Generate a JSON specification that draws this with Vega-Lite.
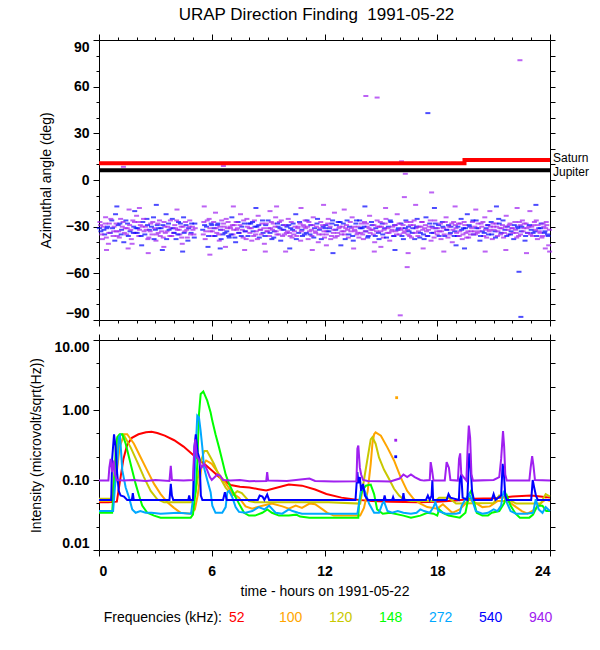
{
  "$schema": "https://vega.github.io/schema/vega-lite/v6.json",
  "padding": {"left": 29, "top": 5, "right": 0, "bottom": 0},
  "background": "white",
  "title": {"text": "URAP Direction Finding\u00a0 1991-05-22", "font": "Liberation Sans", "fontSize": 17, "fontWeight": "normal", "color": "black", "anchor": "middle", "offset": 10, "dx": 7},
  "config": {
    "view": {"stroke": null},
    "font": "Liberation Sans",
    "axis": {"grid": false, "domainColor": "black", "tickColor": "black", "labelColor": "black", "titleColor": "black", "labelFont": "Liberation Sans", "labelFontSize": 14, "labelFontWeight": "bold", "titleFont": "Liberation Sans", "titleFontSize": 14, "titleFontWeight": "normal"}
  },
  "resolve": {"scale": {"color": "independent"}},
  "spacing": 6,
  "datasets": {
    "az": [
      {"t":0.05,"a":-27,"f":"940"},{"t":0.1,"a":-33,"f":"540"},{"t":0.18,"a":-38,"f":"940"},{"t":0.22,"a":-30,"f":"940"},{"t":0.3,"a":-35,"f":"540"},{"t":0.35,"a":-24,"f":"940"},{"t":0.42,"a":-31,"f":"540"},{"t":0.5,"a":-41,"f":"940"},{"t":0.55,"a":-28,"f":"940"},{"t":0.6,"a":-34,"f":"540"},{"t":0.68,"a":-26,"f":"540"},{"t":0.75,"a":-36,"f":"940"},{"t":0.8,"a":-30,"f":"940"},{"t":0.88,"a":-22,"f":"540"},{"t":0.93,"a":-33,"f":"940"},
      {"t":0.7,"a":11,"f":"940"},{"t":1.25,"a":10.5,"f":"540"},{"t":1.3,"a":8.5,"f":"940"},
      {"t":1.02,"a":-29,"f":"540"},{"t":1.08,"a":-37,"f":"940"},{"t":1.15,"a":-25,"f":"940"},{"t":1.2,"a":-32,"f":"540"},{"t":1.28,"a":-27,"f":"940"},{"t":1.32,"a":-40,"f":"540"},{"t":1.4,"a":-31,"f":"940"},{"t":1.47,"a":-35,"f":"940"},{"t":1.52,"a":-28,"f":"540"},{"t":1.6,"a":-19,"f":"940"},{"t":1.65,"a":-33,"f":"540"},{"t":1.72,"a":-38,"f":"940"},{"t":1.8,"a":-26,"f":"940"},{"t":1.85,"a":-30,"f":"540"},{"t":1.93,"a":-34,"f":"940"},
      {"t":2.0,"a":-23,"f":"940"},{"t":2.06,"a":-31,"f":"540"},{"t":2.12,"a":-36,"f":"940"},{"t":2.2,"a":-29,"f":"940"},{"t":2.27,"a":-42,"f":"540"},{"t":2.33,"a":-27,"f":"540"},{"t":2.4,"a":-33,"f":"940"},{"t":2.47,"a":-30,"f":"940"},{"t":2.55,"a":-25,"f":"540"},{"t":2.6,"a":-38,"f":"940"},{"t":2.68,"a":-32,"f":"540"},{"t":2.75,"a":-28,"f":"940"},{"t":2.82,"a":-35,"f":"940"},{"t":2.9,"a":-24,"f":"540"},{"t":2.95,"a":-31,"f":"940"},
      {"t":3.03,"a":-39,"f":"940"},{"t":3.1,"a":-29,"f":"540"},{"t":3.15,"a":-34,"f":"940"},{"t":3.22,"a":-26,"f":"940"},{"t":3.3,"a":-31,"f":"540"},{"t":3.37,"a":-45,"f":"540"},{"t":3.42,"a":-37,"f":"940"},{"t":3.5,"a":-30,"f":"940"},{"t":3.57,"a":-22,"f":"540"},{"t":3.62,"a":-33,"f":"940"},{"t":3.7,"a":-28,"f":"540"},{"t":3.77,"a":-36,"f":"940"},{"t":3.83,"a":-31,"f":"940"},{"t":3.9,"a":-25,"f":"540"},{"t":3.97,"a":-34,"f":"940"},
      {"t":4.03,"a":-29,"f":"940"},{"t":4.1,"a":-38,"f":"540"},{"t":4.17,"a":-32,"f":"940"},{"t":4.23,"a":-27,"f":"540"},{"t":4.3,"a":-35,"f":"940"},{"t":4.37,"a":-30,"f":"940"},{"t":4.43,"a":-41,"f":"940"},{"t":4.5,"a":-24,"f":"540"},{"t":4.57,"a":-33,"f":"940"},{"t":4.63,"a":-29,"f":"540"},{"t":4.7,"a":-37,"f":"940"},{"t":4.77,"a":-31,"f":"540"},{"t":4.83,"a":-26,"f":"940"},{"t":4.9,"a":-34,"f":"540"},{"t":4.97,"a":-30,"f":"940"},{"t":5.05,"a":-35,"f":"940"},{"t":5.1,"a":-28,"f":"540"},
      {"t":5.52,"a":-32,"f":"540"},{"t":5.58,"a":-27,"f":"940"},{"t":5.65,"a":-38,"f":"940"},{"t":5.72,"a":-30,"f":"540"},{"t":5.8,"a":-43,"f":"540"},{"t":5.86,"a":-25,"f":"940"},{"t":5.93,"a":-33,"f":"940"},
      {"t":6.0,"a":-29,"f":"540"},{"t":6.07,"a":-36,"f":"940"},{"t":6.13,"a":-31,"f":"540"},{"t":6.2,"a":-21,"f":"940"},{"t":6.27,"a":-34,"f":"940"},{"t":6.33,"a":-28,"f":"540"},{"t":6.4,"a":-39,"f":"940"},{"t":6.47,"a":-32,"f":"540"},{"t":6.53,"a":-26,"f":"940"},{"t":6.6,"a":-35,"f":"540"},{"t":6.62,"a":9,"f":"940"},{"t":6.67,"a":-30,"f":"940"},{"t":6.73,"a":-43,"f":"940"},{"t":6.8,"a":-33,"f":"540"},{"t":6.87,"a":-27,"f":"940"},{"t":6.93,"a":-37,"f":"540"},
      {"t":7.0,"a":-31,"f":"940"},{"t":7.07,"a":-24,"f":"540"},{"t":7.13,"a":-35,"f":"940"},{"t":7.2,"a":-29,"f":"940"},{"t":7.27,"a":-40,"f":"540"},{"t":7.33,"a":-32,"f":"940"},{"t":7.4,"a":-27,"f":"540"},{"t":7.47,"a":-34,"f":"940"},{"t":7.53,"a":-22,"f":"940"},{"t":7.6,"a":-30,"f":"540"},{"t":7.67,"a":-37,"f":"940"},{"t":7.73,"a":-28,"f":"540"},{"t":7.8,"a":-33,"f":"940"},{"t":7.87,"a":-25,"f":"940"},{"t":7.93,"a":-36,"f":"540"},
      {"t":8.0,"a":-31,"f":"940"},{"t":8.07,"a":-28,"f":"540"},{"t":8.13,"a":-39,"f":"940"},{"t":8.2,"a":-33,"f":"540"},{"t":8.27,"a":-26,"f":"940"},{"t":8.33,"a":-35,"f":"940"},{"t":8.4,"a":-30,"f":"540"},{"t":8.47,"a":-23,"f":"940"},{"t":8.53,"a":-37,"f":"540"},{"t":8.6,"a":-32,"f":"940"},{"t":8.67,"a":-28,"f":"940"},{"t":8.73,"a":-34,"f":"540"},{"t":8.8,"a":-41,"f":"940"},{"t":8.87,"a":-29,"f":"540"},{"t":8.93,"a":-33,"f":"940"},
      {"t":9.0,"a":-26,"f":"540"},{"t":9.07,"a":-36,"f":"940"},{"t":9.13,"a":-31,"f":"940"},{"t":9.2,"a":-38,"f":"540"},{"t":9.27,"a":-28,"f":"940"},{"t":9.33,"a":-33,"f":"540"},{"t":9.4,"a":-24,"f":"940"},{"t":9.47,"a":-35,"f":"940"},{"t":9.53,"a":-30,"f":"540"},{"t":9.6,"a":-27,"f":"940"},{"t":9.67,"a":-39,"f":"540"},{"t":9.73,"a":-32,"f":"940"},{"t":9.8,"a":-29,"f":"540"},{"t":9.87,"a":-35,"f":"940"},{"t":9.93,"a":-46,"f":"940"},
      {"t":10.0,"a":-30,"f":"540"},{"t":10.07,"a":-25,"f":"940"},{"t":10.13,"a":-34,"f":"940"},{"t":10.2,"a":-31,"f":"540"},{"t":10.27,"a":-37,"f":"940"},{"t":10.33,"a":-28,"f":"540"},{"t":10.4,"a":-33,"f":"940"},{"t":10.47,"a":-22,"f":"540"},{"t":10.53,"a":-36,"f":"940"},{"t":10.6,"a":-30,"f":"940"},{"t":10.67,"a":-27,"f":"540"},{"t":10.73,"a":-39,"f":"940"},{"t":10.8,"a":-32,"f":"540"},{"t":10.87,"a":-29,"f":"940"},{"t":10.93,"a":-35,"f":"540"},
      {"t":11.0,"a":-31,"f":"940"},{"t":11.07,"a":-26,"f":"540"},{"t":11.13,"a":-38,"f":"940"},{"t":11.2,"a":-33,"f":"940"},{"t":11.27,"a":-29,"f":"540"},{"t":11.33,"a":-36,"f":"940"},{"t":11.4,"a":-24,"f":"940"},{"t":11.47,"a":-31,"f":"540"},{"t":11.53,"a":-34,"f":"940"},{"t":11.6,"a":-28,"f":"540"},{"t":11.67,"a":-40,"f":"940"},{"t":11.73,"a":-32,"f":"540"},{"t":11.8,"a":-27,"f":"940"},{"t":11.87,"a":-35,"f":"940"},{"t":11.93,"a":-30,"f":"540"},
      {"t":12.0,"a":-37,"f":"940"},{"t":12.07,"a":-29,"f":"540"},{"t":12.13,"a":-33,"f":"940"},{"t":12.2,"a":-25,"f":"940"},{"t":12.27,"a":-31,"f":"540"},{"t":12.33,"a":-38,"f":"940"},{"t":12.4,"a":-28,"f":"540"},{"t":12.47,"a":-34,"f":"940"},{"t":12.53,"a":-21,"f":"940"},{"t":12.6,"a":-32,"f":"540"},{"t":12.67,"a":-36,"f":"940"},{"t":12.73,"a":-27,"f":"540"},{"t":12.8,"a":-30,"f":"940"},{"t":12.87,"a":-42,"f":"540"},{"t":12.93,"a":-33,"f":"940"},
      {"t":13.0,"a":-28,"f":"540"},{"t":13.07,"a":-35,"f":"940"},{"t":13.13,"a":-31,"f":"940"},{"t":13.2,"a":-26,"f":"540"},{"t":13.27,"a":-37,"f":"940"},{"t":13.33,"a":-30,"f":"540"},{"t":13.4,"a":-33,"f":"940"},{"t":13.47,"a":-24,"f":"940"},{"t":13.53,"a":-39,"f":"540"},{"t":13.6,"a":-32,"f":"940"},{"t":13.67,"a":-28,"f":"540"},{"t":13.73,"a":-35,"f":"940"},{"t":13.8,"a":-30,"f":"940"},{"t":13.87,"a":-26,"f":"540"},{"t":13.93,"a":-34,"f":"940"},
      {"t":14.0,"a":-31,"f":"540"},{"t":14.07,"a":-38,"f":"940"},{"t":14.13,"a":-27,"f":"940"},{"t":14.2,"a":-33,"f":"540"},{"t":14.27,"a":-30,"f":"940"},{"t":14.33,"a":-36,"f":"540"},{"t":14.4,"a":-23,"f":"940"},{"t":14.47,"a":-32,"f":"940"},{"t":14.53,"a":-29,"f":"540"},{"t":14.6,"a":-35,"f":"940"},{"t":14.67,"a":-40,"f":"940"},{"t":14.73,"a":-31,"f":"540"},{"t":14.8,"a":-26,"f":"940"},{"t":14.87,"a":-34,"f":"540"},{"t":14.93,"a":-30,"f":"940"},{"t":14.2,"a":54,"f":"940"},{"t":14.8,"a":53,"f":"940"},
      {"t":15.0,"a":-33,"f":"940"},{"t":15.07,"a":-28,"f":"540"},{"t":15.13,"a":-37,"f":"940"},{"t":15.2,"a":-31,"f":"540"},{"t":15.27,"a":-25,"f":"940"},{"t":15.33,"a":-34,"f":"940"},{"t":15.4,"a":-30,"f":"540"},{"t":15.47,"a":-39,"f":"940"},{"t":15.53,"a":-27,"f":"540"},{"t":15.6,"a":-32,"f":"940"},{"t":15.67,"a":-36,"f":"940"},{"t":15.73,"a":-29,"f":"540"},{"t":15.8,"a":-33,"f":"940"},{"t":15.87,"a":-22,"f":"940"},{"t":15.93,"a":-31,"f":"540"},
      {"t":16.0,"a":-35,"f":"940"},{"t":16.03,"a":-87,"f":"940"},{"t":16.07,"a":-28,"f":"540"},{"t":16.1,"a":12,"f":"940"},{"t":16.13,"a":-31,"f":"940"},{"t":16.2,"a":-38,"f":"540"},{"t":16.25,"a":-11,"f":"940"},{"t":16.27,"a":-33,"f":"940"},{"t":16.3,"a":4,"f":"940"},{"t":16.33,"a":-26,"f":"540"},{"t":16.4,"a":-56,"f":"940"},{"t":16.42,"a":-32,"f":"940"},{"t":16.47,"a":-30,"f":"540"},{"t":16.53,"a":-36,"f":"940"},{"t":16.6,"a":-27,"f":"940"},{"t":16.67,"a":-34,"f":"540"},{"t":16.73,"a":-29,"f":"940"},{"t":16.8,"a":-38,"f":"540"},{"t":16.87,"a":-31,"f":"940"},{"t":16.93,"a":-25,"f":"540"},
      {"t":17.0,"a":-33,"f":"940"},{"t":17.07,"a":-37,"f":"540"},{"t":17.13,"a":-30,"f":"940"},{"t":17.2,"a":-27,"f":"940"},{"t":17.27,"a":-35,"f":"540"},{"t":17.33,"a":-31,"f":"940"},{"t":17.4,"a":-24,"f":"540"},{"t":17.47,"a":-36,"f":"940"},{"t":17.5,"a":43,"f":"540"},{"t":17.53,"a":-32,"f":"940"},{"t":17.6,"a":-28,"f":"540"},{"t":17.67,"a":-39,"f":"940"},{"t":17.7,"a":-8,"f":"940"},{"t":17.73,"a":-30,"f":"540"},{"t":17.8,"a":-34,"f":"940"},{"t":17.87,"a":-26,"f":"940"},{"t":17.93,"a":-31,"f":"540"},
      {"t":18.0,"a":-35,"f":"940"},{"t":18.07,"a":-29,"f":"540"},{"t":18.13,"a":-33,"f":"940"},{"t":18.2,"a":-38,"f":"940"},{"t":18.27,"a":-27,"f":"540"},{"t":18.33,"a":-31,"f":"940"},{"t":18.4,"a":-36,"f":"540"},{"t":18.47,"a":-24,"f":"940"},{"t":18.53,"a":-32,"f":"940"},{"t":18.6,"a":-29,"f":"540"},{"t":18.67,"a":-35,"f":"940"},{"t":18.73,"a":-30,"f":"540"},{"t":18.8,"a":-40,"f":"940"},{"t":18.87,"a":-27,"f":"940"},{"t":18.93,"a":-33,"f":"540"},
      {"t":19.0,"a":-31,"f":"940"},{"t":19.07,"a":-36,"f":"540"},{"t":19.13,"a":-28,"f":"940"},{"t":19.2,"a":-33,"f":"940"},{"t":19.27,"a":-25,"f":"540"},{"t":19.33,"a":-38,"f":"940"},{"t":19.4,"a":-31,"f":"540"},{"t":19.47,"a":-29,"f":"940"},{"t":19.53,"a":-34,"f":"940"},{"t":19.6,"a":-22,"f":"540"},{"t":19.67,"a":-37,"f":"940"},{"t":19.73,"a":-30,"f":"540"},{"t":19.8,"a":-33,"f":"940"},{"t":19.87,"a":-27,"f":"940"},{"t":19.93,"a":-35,"f":"540"},
      {"t":20.0,"a":-30,"f":"940"},{"t":20.07,"a":-26,"f":"540"},{"t":20.13,"a":-34,"f":"940"},{"t":20.2,"a":-31,"f":"940"},{"t":20.27,"a":-39,"f":"540"},{"t":20.33,"a":-28,"f":"940"},{"t":20.4,"a":-33,"f":"540"},{"t":20.47,"a":-36,"f":"940"},{"t":20.53,"a":-24,"f":"940"},{"t":20.6,"a":-31,"f":"540"},{"t":20.67,"a":-29,"f":"940"},{"t":20.73,"a":-35,"f":"540"},{"t":20.8,"a":-32,"f":"940"},{"t":20.87,"a":-27,"f":"540"},{"t":20.93,"a":-38,"f":"940"},
      {"t":21.0,"a":-30,"f":"940"},{"t":21.07,"a":-33,"f":"540"},{"t":21.13,"a":-28,"f":"940"},{"t":21.2,"a":-36,"f":"940"},{"t":21.27,"a":-25,"f":"540"},{"t":21.33,"a":-31,"f":"940"},{"t":21.4,"a":-34,"f":"540"},{"t":21.47,"a":-29,"f":"940"},{"t":21.53,"a":-37,"f":"940"},{"t":21.6,"a":-32,"f":"540"},{"t":21.67,"a":-23,"f":"940"},{"t":21.73,"a":-30,"f":"540"},{"t":21.8,"a":-35,"f":"940"},{"t":21.87,"a":-28,"f":"940"},{"t":21.93,"a":-33,"f":"540"},
      {"t":22.0,"a":-31,"f":"940"},{"t":22.07,"a":-38,"f":"540"},{"t":22.13,"a":-27,"f":"940"},{"t":22.2,"a":-34,"f":"940"},{"t":22.27,"a":-30,"f":"540"},{"t":22.33,"a":-36,"f":"940"},{"t":22.35,"a":-59,"f":"540"},{"t":22.4,"a":77,"f":"940"},{"t":22.42,"a":-29,"f":"940"},{"t":22.45,"a":-88,"f":"540"},{"t":22.47,"a":-33,"f":"540"},{"t":22.53,"a":-26,"f":"940"},{"t":22.6,"a":-31,"f":"940"},{"t":22.67,"a":-39,"f":"540"},{"t":22.73,"a":-28,"f":"940"},{"t":22.8,"a":-34,"f":"540"},{"t":22.87,"a":-30,"f":"940"},{"t":22.93,"a":-20,"f":"940"},
      {"t":23.0,"a":-32,"f":"540"},{"t":23.07,"a":-36,"f":"940"},{"t":23.13,"a":-29,"f":"940"},{"t":23.2,"a":-33,"f":"540"},{"t":23.27,"a":-26,"f":"940"},{"t":23.33,"a":-38,"f":"940"},{"t":23.4,"a":-31,"f":"540"},{"t":23.47,"a":-34,"f":"940"},{"t":23.53,"a":-28,"f":"540"},{"t":23.6,"a":-36,"f":"940"},{"t":23.67,"a":-30,"f":"940"},{"t":23.73,"a":-33,"f":"540"},{"t":23.8,"a":-27,"f":"940"},{"t":23.87,"a":-35,"f":"540"},{"t":23.93,"a":-42,"f":"940"},
      {"t":0.02,"a":-31,"f":"540"},{"t":0.08,"a":-29,"f":"940"},{"t":0.14,"a":-35,"f":"940"},{"t":0.26,"a":-32,"f":"540"},{"t":0.33,"a":-28,"f":"940"},{"t":0.39,"a":-37,"f":"940"},{"t":0.46,"a":-30,"f":"540"},{"t":0.52,"a":-34,"f":"940"},{"t":0.63,"a":-25,"f":"940"},{"t":0.72,"a":-31,"f":"540"},{"t":0.78,"a":-33,"f":"940"},{"t":0.84,"a":-39,"f":"540"},{"t":0.91,"a":-28,"f":"940"},{"t":0.97,"a":-36,"f":"940"},
      {"t":1.05,"a":-33,"f":"940"},{"t":1.11,"a":-28,"f":"540"},{"t":1.18,"a":-35,"f":"540"},{"t":1.24,"a":-30,"f":"940"},{"t":1.35,"a":-34,"f":"940"},{"t":1.43,"a":-26,"f":"540"},{"t":1.5,"a":-31,"f":"940"},{"t":1.56,"a":-36,"f":"540"},{"t":1.63,"a":-29,"f":"940"},{"t":1.69,"a":-32,"f":"940"},{"t":1.76,"a":-41,"f":"940"},{"t":1.83,"a":-34,"f":"540"},{"t":1.89,"a":-27,"f":"940"},{"t":1.97,"a":-31,"f":"540"},
      {"t":2.03,"a":-34,"f":"540"},{"t":2.09,"a":-27,"f":"940"},{"t":2.16,"a":-32,"f":"940"},{"t":2.24,"a":-36,"f":"540"},{"t":2.3,"a":-30,"f":"940"},{"t":2.37,"a":-25,"f":"940"},{"t":2.44,"a":-35,"f":"540"},{"t":2.51,"a":-32,"f":"940"},{"t":2.58,"a":-29,"f":"540"},{"t":2.65,"a":-37,"f":"940"},{"t":2.72,"a":-33,"f":"940"},{"t":2.79,"a":-30,"f":"540"},{"t":2.86,"a":-27,"f":"940"},{"t":2.93,"a":-38,"f":"540"},
      {"t":3.0,"a":-32,"f":"540"},{"t":3.07,"a":-35,"f":"940"},{"t":3.13,"a":-28,"f":"940"},{"t":3.19,"a":-31,"f":"540"},{"t":3.26,"a":-36,"f":"940"},{"t":3.33,"a":-33,"f":"940"},{"t":3.4,"a":-29,"f":"540"},{"t":3.46,"a":-27,"f":"940"},{"t":3.53,"a":-34,"f":"940"},{"t":3.6,"a":-38,"f":"540"},{"t":3.66,"a":-30,"f":"940"},{"t":3.73,"a":-32,"f":"540"},{"t":3.8,"a":-26,"f":"940"},{"t":3.87,"a":-36,"f":"940"},{"t":3.94,"a":-31,"f":"540"},
      {"t":4.0,"a":-34,"f":"540"},{"t":4.07,"a":-31,"f":"940"},{"t":4.13,"a":-26,"f":"940"},{"t":4.2,"a":-35,"f":"540"},{"t":4.27,"a":-32,"f":"940"},{"t":4.33,"a":-28,"f":"540"},{"t":4.4,"a":-37,"f":"940"},{"t":4.47,"a":-30,"f":"940"},{"t":4.53,"a":-34,"f":"540"},{"t":4.6,"a":-27,"f":"940"},{"t":4.67,"a":-32,"f":"940"},{"t":4.73,"a":-39,"f":"540"},{"t":4.8,"a":-30,"f":"940"},{"t":4.87,"a":-35,"f":"940"},{"t":4.93,"a":-28,"f":"540"},{"t":5.0,"a":-32,"f":"940"},{"t":5.07,"a":-37,"f":"540"},{"t":5.12,"a":-31,"f":"940"},
      {"t":5.55,"a":-35,"f":"940"},{"t":5.62,"a":-29,"f":"540"},{"t":5.68,"a":-33,"f":"940"},{"t":5.76,"a":-26,"f":"940"},{"t":5.83,"a":-36,"f":"540"},{"t":5.9,"a":-31,"f":"940"},{"t":5.97,"a":-28,"f":"540"},
      {"t":6.03,"a":-33,"f":"940"},{"t":6.1,"a":-27,"f":"940"},{"t":6.17,"a":-36,"f":"540"},{"t":6.23,"a":-31,"f":"940"},{"t":6.3,"a":-29,"f":"540"},{"t":6.37,"a":-35,"f":"940"},{"t":6.43,"a":-30,"f":"940"},{"t":6.5,"a":-38,"f":"540"},{"t":6.57,"a":-32,"f":"940"},{"t":6.63,"a":-28,"f":"940"},{"t":6.7,"a":-34,"f":"540"},{"t":6.77,"a":-25,"f":"940"},{"t":6.83,"a":-31,"f":"940"},{"t":6.9,"a":-36,"f":"540"},{"t":6.97,"a":-30,"f":"940"},
      {"t":7.03,"a":-35,"f":"540"},{"t":7.1,"a":-29,"f":"940"},{"t":7.17,"a":-32,"f":"940"},{"t":7.23,"a":-37,"f":"540"},{"t":7.3,"a":-27,"f":"940"},{"t":7.37,"a":-31,"f":"940"},{"t":7.43,"a":-34,"f":"540"},{"t":7.5,"a":-29,"f":"940"},{"t":7.57,"a":-36,"f":"540"},{"t":7.63,"a":-32,"f":"940"},{"t":7.7,"a":-26,"f":"940"},{"t":7.77,"a":-33,"f":"540"},{"t":7.83,"a":-38,"f":"940"},{"t":7.9,"a":-30,"f":"940"},{"t":7.97,"a":-28,"f":"540"},
      {"t":8.03,"a":-34,"f":"940"},{"t":8.1,"a":-31,"f":"940"},{"t":8.17,"a":-27,"f":"540"},{"t":8.23,"a":-36,"f":"940"},{"t":8.3,"a":-30,"f":"540"},{"t":8.37,"a":-33,"f":"940"},{"t":8.43,"a":-38,"f":"940"},{"t":8.5,"a":-29,"f":"540"},{"t":8.57,"a":-32,"f":"940"},{"t":8.63,"a":-35,"f":"940"},{"t":8.7,"a":-26,"f":"540"},{"t":8.77,"a":-31,"f":"940"},{"t":8.83,"a":-36,"f":"540"},{"t":8.9,"a":-28,"f":"940"},{"t":8.97,"a":-33,"f":"940"},
      {"t":9.03,"a":-31,"f":"940"},{"t":9.1,"a":-34,"f":"540"},{"t":9.17,"a":-27,"f":"940"},{"t":9.23,"a":-32,"f":"940"},{"t":9.3,"a":-37,"f":"540"},{"t":9.37,"a":-30,"f":"940"},{"t":9.43,"a":-33,"f":"940"},{"t":9.5,"a":-28,"f":"540"},{"t":9.57,"a":-35,"f":"940"},{"t":9.63,"a":-31,"f":"540"},{"t":9.7,"a":-26,"f":"940"},{"t":9.77,"a":-36,"f":"940"},{"t":9.83,"a":-32,"f":"540"},{"t":9.9,"a":-29,"f":"940"},{"t":9.97,"a":-34,"f":"940"},
      {"t":10.03,"a":-33,"f":"940"},{"t":10.1,"a":-29,"f":"540"},{"t":10.17,"a":-36,"f":"940"},{"t":10.23,"a":-27,"f":"940"},{"t":10.3,"a":-32,"f":"540"},{"t":10.37,"a":-35,"f":"940"},{"t":10.43,"a":-30,"f":"940"},{"t":10.5,"a":-38,"f":"540"},{"t":10.57,"a":-31,"f":"940"},{"t":10.63,"a":-34,"f":"540"},{"t":10.7,"a":-28,"f":"940"},{"t":10.77,"a":-33,"f":"940"},{"t":10.83,"a":-36,"f":"540"},{"t":10.9,"a":-30,"f":"940"},{"t":10.97,"a":-26,"f":"940"},
      {"t":11.03,"a":-34,"f":"540"},{"t":11.1,"a":-30,"f":"940"},{"t":11.17,"a":-27,"f":"940"},{"t":11.23,"a":-35,"f":"540"},{"t":11.3,"a":-32,"f":"940"},{"t":11.37,"a":-29,"f":"940"},{"t":11.43,"a":-37,"f":"540"},{"t":11.5,"a":-33,"f":"940"},{"t":11.57,"a":-30,"f":"940"},{"t":11.63,"a":-25,"f":"540"},{"t":11.7,"a":-35,"f":"940"},{"t":11.77,"a":-31,"f":"940"},{"t":11.83,"a":-38,"f":"540"},{"t":11.9,"a":-29,"f":"940"},{"t":11.97,"a":-33,"f":"940"},
      {"t":12.03,"a":-31,"f":"540"},{"t":12.1,"a":-35,"f":"940"},{"t":12.17,"a":-28,"f":"940"},{"t":12.23,"a":-33,"f":"540"},{"t":12.3,"a":-30,"f":"940"},{"t":12.37,"a":-36,"f":"940"},{"t":12.43,"a":-26,"f":"540"},{"t":12.5,"a":-32,"f":"940"},{"t":12.57,"a":-37,"f":"940"},{"t":12.63,"a":-29,"f":"540"},{"t":12.7,"a":-34,"f":"940"},{"t":12.77,"a":-31,"f":"940"},{"t":12.83,"a":-27,"f":"540"},{"t":12.9,"a":-35,"f":"940"},{"t":12.97,"a":-30,"f":"940"},
      {"t":13.03,"a":-33,"f":"940"},{"t":13.1,"a":-38,"f":"540"},{"t":13.17,"a":-29,"f":"940"},{"t":13.23,"a":-32,"f":"940"},{"t":13.3,"a":-35,"f":"540"},{"t":13.37,"a":-27,"f":"940"},{"t":13.43,"a":-31,"f":"940"},{"t":13.5,"a":-36,"f":"540"},{"t":13.57,"a":-30,"f":"940"},{"t":13.63,"a":-33,"f":"940"},{"t":13.7,"a":-26,"f":"540"},{"t":13.77,"a":-34,"f":"940"},{"t":13.83,"a":-37,"f":"940"},{"t":13.9,"a":-31,"f":"540"},{"t":13.97,"a":-28,"f":"940"},
      {"t":14.03,"a":-35,"f":"940"},{"t":14.1,"a":-30,"f":"540"},{"t":14.17,"a":-33,"f":"940"},{"t":14.23,"a":-28,"f":"940"},{"t":14.3,"a":-37,"f":"540"},{"t":14.37,"a":-31,"f":"940"},{"t":14.43,"a":-34,"f":"940"},{"t":14.5,"a":-27,"f":"540"},{"t":14.57,"a":-32,"f":"940"},{"t":14.63,"a":-29,"f":"940"},{"t":14.7,"a":-36,"f":"540"},{"t":14.77,"a":-33,"f":"940"},{"t":14.83,"a":-30,"f":"940"},{"t":14.9,"a":-38,"f":"540"},{"t":14.97,"a":-27,"f":"940"},
      {"t":15.03,"a":-30,"f":"940"},{"t":15.1,"a":-35,"f":"540"},{"t":15.17,"a":-32,"f":"940"},{"t":15.23,"a":-28,"f":"940"},{"t":15.3,"a":-37,"f":"540"},{"t":15.37,"a":-31,"f":"940"},{"t":15.43,"a":-34,"f":"940"},{"t":15.5,"a":-26,"f":"540"},{"t":15.57,"a":-33,"f":"940"},{"t":15.63,"a":-30,"f":"940"},{"t":15.7,"a":-36,"f":"540"},{"t":15.77,"a":-29,"f":"940"},{"t":15.83,"a":-35,"f":"940"},{"t":15.9,"a":-32,"f":"540"},{"t":15.97,"a":-28,"f":"940"},
      {"t":16.05,"a":-32,"f":"940"},{"t":16.12,"a":-36,"f":"540"},{"t":16.18,"a":-29,"f":"940"},{"t":16.23,"a":-34,"f":"940"},{"t":16.3,"a":-31,"f":"540"},{"t":16.37,"a":-27,"f":"940"},{"t":16.45,"a":-35,"f":"940"},{"t":16.5,"a":-33,"f":"540"},{"t":16.57,"a":-29,"f":"940"},{"t":16.63,"a":-37,"f":"940"},{"t":16.7,"a":-31,"f":"540"},{"t":16.77,"a":-26,"f":"940"},{"t":16.83,"a":-34,"f":"940"},{"t":16.9,"a":-30,"f":"540"},{"t":16.97,"a":-36,"f":"940"},
      {"t":17.03,"a":-30,"f":"940"},{"t":17.1,"a":-34,"f":"540"},{"t":17.17,"a":-27,"f":"940"},{"t":17.23,"a":-32,"f":"940"},{"t":17.3,"a":-38,"f":"540"},{"t":17.37,"a":-29,"f":"940"},{"t":17.43,"a":-33,"f":"940"},{"t":17.5,"a":-36,"f":"540"},{"t":17.57,"a":-30,"f":"940"},{"t":17.63,"a":-26,"f":"940"},{"t":17.7,"a":-34,"f":"540"},{"t":17.77,"a":-31,"f":"940"},{"t":17.83,"a":-37,"f":"940"},{"t":17.9,"a":-28,"f":"540"},{"t":17.97,"a":-33,"f":"940"},
      {"t":18.03,"a":-31,"f":"940"},{"t":18.1,"a":-36,"f":"540"},{"t":18.17,"a":-28,"f":"940"},{"t":18.23,"a":-33,"f":"940"},{"t":18.3,"a":-30,"f":"540"},{"t":18.37,"a":-35,"f":"940"},{"t":18.43,"a":-27,"f":"940"},{"t":18.5,"a":-32,"f":"540"},{"t":18.57,"a":-37,"f":"940"},{"t":18.63,"a":-30,"f":"940"},{"t":18.7,"a":-34,"f":"540"},{"t":18.77,"a":-28,"f":"940"},{"t":18.83,"a":-32,"f":"940"},{"t":18.9,"a":-36,"f":"540"},{"t":18.97,"a":-29,"f":"940"},
      {"t":19.03,"a":-34,"f":"940"},{"t":19.1,"a":-30,"f":"540"},{"t":19.17,"a":-36,"f":"940"},{"t":19.23,"a":-28,"f":"940"},{"t":19.3,"a":-32,"f":"540"},{"t":19.37,"a":-35,"f":"940"},{"t":19.43,"a":-27,"f":"940"},{"t":19.5,"a":-31,"f":"540"},{"t":19.57,"a":-37,"f":"940"},{"t":19.63,"a":-33,"f":"940"},{"t":19.7,"a":-29,"f":"540"},{"t":19.77,"a":-35,"f":"940"},{"t":19.83,"a":-31,"f":"940"},{"t":19.9,"a":-26,"f":"540"},{"t":19.97,"a":-33,"f":"940"},
      {"t":20.03,"a":-35,"f":"940"},{"t":20.1,"a":-31,"f":"540"},{"t":20.17,"a":-28,"f":"940"},{"t":20.23,"a":-33,"f":"940"},{"t":20.3,"a":-36,"f":"540"},{"t":20.37,"a":-30,"f":"940"},{"t":20.43,"a":-27,"f":"940"},{"t":20.5,"a":-34,"f":"540"},{"t":20.57,"a":-32,"f":"940"},{"t":20.63,"a":-37,"f":"940"},{"t":20.7,"a":-29,"f":"540"},{"t":20.77,"a":-33,"f":"940"},{"t":20.83,"a":-30,"f":"940"},{"t":20.9,"a":-35,"f":"540"},{"t":20.97,"a":-28,"f":"940"},
      {"t":21.03,"a":-32,"f":"940"},{"t":21.1,"a":-37,"f":"540"},{"t":21.17,"a":-30,"f":"940"},{"t":21.23,"a":-33,"f":"940"},{"t":21.3,"a":-28,"f":"540"},{"t":21.37,"a":-35,"f":"940"},{"t":21.43,"a":-31,"f":"940"},{"t":21.5,"a":-26,"f":"540"},{"t":21.57,"a":-34,"f":"940"},{"t":21.63,"a":-30,"f":"940"},{"t":21.7,"a":-36,"f":"540"},{"t":21.77,"a":-32,"f":"940"},{"t":21.83,"a":-29,"f":"940"},{"t":21.9,"a":-35,"f":"540"},{"t":21.97,"a":-31,"f":"940"},
      {"t":22.03,"a":-34,"f":"940"},{"t":22.1,"a":-29,"f":"540"},{"t":22.17,"a":-32,"f":"940"},{"t":22.23,"a":-37,"f":"940"},{"t":22.3,"a":-31,"f":"540"},{"t":22.37,"a":-27,"f":"940"},{"t":22.43,"a":-35,"f":"940"},{"t":22.5,"a":-30,"f":"540"},{"t":22.57,"a":-33,"f":"940"},{"t":22.63,"a":-28,"f":"940"},{"t":22.7,"a":-36,"f":"540"},{"t":22.77,"a":-31,"f":"940"},{"t":22.83,"a":-34,"f":"940"},{"t":22.9,"a":-29,"f":"540"},{"t":22.97,"a":-35,"f":"940"},
      {"t":23.03,"a":-30,"f":"940"},{"t":23.1,"a":-34,"f":"540"},{"t":23.17,"a":-27,"f":"940"},{"t":23.23,"a":-32,"f":"940"},{"t":23.3,"a":-36,"f":"540"},{"t":23.37,"a":-29,"f":"940"},{"t":23.43,"a":-33,"f":"940"},{"t":23.5,"a":-31,"f":"540"},{"t":23.57,"a":-37,"f":"940"},{"t":23.63,"a":-28,"f":"940"},{"t":23.7,"a":-34,"f":"540"},{"t":23.77,"a":-31,"f":"940"},{"t":23.83,"a":-29,"f":"940"},{"t":23.9,"a":-36,"f":"540"},{"t":23.97,"a":-32,"f":"940"},
      {"t":0.4,"a":-45,"f":"940"},{"t":0.95,"a":-17,"f":"540"},{"t":1.55,"a":-44,"f":"940"},{"t":2.15,"a":-18,"f":"940"},{"t":2.62,"a":-47,"f":"940"},{"t":3.05,"a":-16,"f":"540"},{"t":3.45,"a":-43,"f":"940"},{"t":4.15,"a":-19,"f":"940"},{"t":4.45,"a":-46,"f":"540"},{"t":5.6,"a":-17,"f":"940"},{"t":5.9,"a":-48,"f":"940"},{"t":6.45,"a":-44,"f":"540"},{"t":7.15,"a":-17,"f":"940"},{"t":7.75,"a":-45,"f":"940"},{"t":8.35,"a":-18,"f":"540"},{"t":8.85,"a":-46,"f":"940"},{"t":9.45,"a":-17,"f":"940"},{"t":10.15,"a":-44,"f":"540"},{"t":10.75,"a":-18,"f":"940"},{"t":11.35,"a":-45,"f":"940"},{"t":11.95,"a":-16,"f":"940"},{"t":12.45,"a":-47,"f":"540"},{"t":13.05,"a":-19,"f":"940"},{"t":13.55,"a":-44,"f":"940"},{"t":14.15,"a":-17,"f":"540"},{"t":14.65,"a":-46,"f":"940"},{"t":15.25,"a":-18,"f":"940"},{"t":15.75,"a":-45,"f":"540"},{"t":16.45,"a":-47,"f":"940"},{"t":16.85,"a":-16,"f":"940"},{"t":17.25,"a":-44,"f":"940"},{"t":17.85,"a":-18,"f":"540"},{"t":18.35,"a":-46,"f":"940"},{"t":18.95,"a":-17,"f":"940"},{"t":19.45,"a":-44,"f":"540"},{"t":20.05,"a":-19,"f":"940"},{"t":20.55,"a":-46,"f":"940"},{"t":21.15,"a":-17,"f":"540"},{"t":21.65,"a":-45,"f":"940"},{"t":22.25,"a":-18,"f":"940"},{"t":22.75,"a":-47,"f":"940"},{"t":23.25,"a":-16,"f":"540"},{"t":23.75,"a":-44,"f":"940"},{"t":23.98,"a":-46,"f":"940"},{"t":1.9,"a":-20,"f":"540"},{"t":9.1,"a":-20,"f":"940"},{"t":12.1,"a":-42,"f":"940"},{"t":19.0,"a":-42,"f":"540"},{"t":20.8,"a":-20,"f":"940"},{"t":15.0,"a":-43,"f":"940"}
    ],
    "planets": [
      {"name":"Saturn","t":0,"a":10.7},{"name":"Saturn","t":19.45,"a":12.9},{"name":"Saturn","t":24,"a":12.9},
      {"name":"Jupiter","t":0,"a":6.2},{"name":"Jupiter","t":24,"a":6.2}
    ],
    "intensity": [
      {"f":"52","t":0,"v":0.048},{"f":"52","t":0.5,"v":0.048},{"f":"52","t":0.95,"v":0.049},{"f":"52","t":1.1,"v":0.09},{"f":"52","t":1.3,"v":0.2},{"f":"52","t":1.5,"v":0.32},{"f":"52","t":1.75,"v":0.4},{"f":"52","t":2.1,"v":0.45},{"f":"52","t":2.5,"v":0.48},{"f":"52","t":2.8,"v":0.49},{"f":"52","t":3.1,"v":0.47},{"f":"52","t":3.5,"v":0.43},{"f":"52","t":4.0,"v":0.37},{"f":"52","t":4.5,"v":0.3},{"f":"52","t":5.0,"v":0.23},{"f":"52","t":5.6,"v":0.17},{"f":"52","t":6.1,"v":0.13},{"f":"52","t":6.4,"v":0.11},{"f":"52","t":7.0,"v":0.085},{"f":"52","t":7.5,"v":0.08},{"f":"52","t":8.0,"v":0.078},{"f":"52","t":8.5,"v":0.074},{"f":"52","t":8.9,"v":0.071},{"f":"52","t":9.4,"v":0.077},{"f":"52","t":10.1,"v":0.086},{"f":"52","t":10.8,"v":0.083},{"f":"52","t":11.5,"v":0.073},{"f":"52","t":12.1,"v":0.063},{"f":"52","t":12.9,"v":0.056},{"f":"52","t":13.8,"v":0.052},{"f":"52","t":14.5,"v":0.05},{"f":"52","t":15.5,"v":0.049},{"f":"52","t":17,"v":0.048},{"f":"52","t":18,"v":0.049},{"f":"52","t":19,"v":0.051},{"f":"52","t":19.9,"v":0.054},{"f":"52","t":21,"v":0.055},{"f":"52","t":22,"v":0.058},{"f":"52","t":23,"v":0.06},{"f":"52","t":23.5,"v":0.058},{"f":"52","t":24,"v":0.056},
      {"f":"100","t":0,"v":0.05},{"f":"100","t":0.6,"v":0.05},{"f":"100","t":0.9,"v":0.1},{"f":"100","t":1.1,"v":0.3},{"f":"100","t":1.35,"v":0.45},{"f":"100","t":1.5,"v":0.45},{"f":"100","t":1.86,"v":0.33},{"f":"100","t":2.22,"v":0.21},{"f":"100","t":2.57,"v":0.136},{"f":"100","t":2.93,"v":0.088},{"f":"100","t":3.28,"v":0.063},{"f":"100","t":3.64,"v":0.048},{"f":"100","t":3.99,"v":0.04},{"f":"100","t":4.35,"v":0.034},{"f":"100","t":4.88,"v":0.033},{"f":"100","t":5.1,"v":0.038},{"f":"100","t":5.25,"v":0.06},{"f":"100","t":5.45,"v":0.15},{"f":"100","t":5.7,"v":0.19},{"f":"100","t":6.0,"v":0.17},{"f":"100","t":6.4,"v":0.12},{"f":"100","t":6.8,"v":0.085},{"f":"100","t":7.1,"v":0.065},{"f":"100","t":7.45,"v":0.056},{"f":"100","t":7.8,"v":0.042},{"f":"100","t":8.15,"v":0.039},{"f":"100","t":8.7,"v":0.043},{"f":"100","t":9.2,"v":0.046},{"f":"100","t":9.76,"v":0.042},{"f":"100","t":10.1,"v":0.039},{"f":"100","t":10.47,"v":0.043},{"f":"100","t":10.8,"v":0.04},{"f":"100","t":11.2,"v":0.046},{"f":"100","t":11.5,"v":0.045},{"f":"100","t":11.9,"v":0.038},{"f":"100","t":12.15,"v":0.034},{"f":"100","t":12.5,"v":0.031},{"f":"100","t":13.9,"v":0.031},{"f":"100","t":14.1,"v":0.04},{"f":"100","t":14.3,"v":0.07},{"f":"100","t":14.46,"v":0.17},{"f":"100","t":14.55,"v":0.33},{"f":"100","t":14.64,"v":0.45},{"f":"100","t":14.72,"v":0.48},{"f":"100","t":15.0,"v":0.43},{"f":"100","t":15.35,"v":0.29},{"f":"100","t":15.7,"v":0.19},{"f":"100","t":16.05,"v":0.11},{"f":"100","t":16.4,"v":0.07},{"f":"100","t":16.76,"v":0.053},{"f":"100","t":17.1,"v":0.046},{"f":"100","t":17.47,"v":0.041},{"f":"100","t":18.0,"v":0.039},{"f":"100","t":18.3,"v":0.045},{"f":"100","t":18.8,"v":0.034},{"f":"100","t":19.2,"v":0.038},{"f":"100","t":19.5,"v":0.046},{"f":"100","t":19.7,"v":0.053},{"f":"100","t":20.0,"v":0.048},{"f":"100","t":20.4,"v":0.041},{"f":"100","t":20.8,"v":0.042},{"f":"100","t":21.2,"v":0.05},{"f":"100","t":21.6,"v":0.05},{"f":"100","t":21.9,"v":0.047},{"f":"100","t":22.2,"v":0.041},{"f":"100","t":22.5,"v":0.036},{"f":"100","t":22.8,"v":0.033},{"f":"100","t":23.2,"v":0.038},{"f":"100","t":23.5,"v":0.046},{"f":"100","t":23.77,"v":0.053},{"f":"100","t":24,"v":0.05},
      {"f":"120","t":0,"v":0.054},{"f":"120","t":0.7,"v":0.054},{"f":"120","t":0.85,"v":0.15},{"f":"120","t":1.0,"v":0.38},{"f":"120","t":1.1,"v":0.44},{"f":"120","t":1.3,"v":0.45},{"f":"120","t":1.69,"v":0.29},{"f":"120","t":2.04,"v":0.18},{"f":"120","t":2.39,"v":0.11},{"f":"120","t":2.75,"v":0.07},{"f":"120","t":3.1,"v":0.053},{"f":"120","t":3.46,"v":0.048},{"f":"120","t":4.9,"v":0.048},{"f":"120","t":5.1,"v":0.06},{"f":"120","t":5.41,"v":0.18},{"f":"120","t":5.6,"v":0.26},{"f":"120","t":5.75,"v":0.26},{"f":"120","t":5.94,"v":0.21},{"f":"120","t":6.12,"v":0.17},{"f":"120","t":6.39,"v":0.115},{"f":"120","t":6.74,"v":0.078},{"f":"120","t":7.1,"v":0.06},{"f":"120","t":7.36,"v":0.069},{"f":"120","t":7.6,"v":0.065},{"f":"120","t":7.98,"v":0.05},{"f":"120","t":8.3,"v":0.048},{"f":"120","t":12.2,"v":0.048},{"f":"120","t":13.9,"v":0.046},{"f":"120","t":14.1,"v":0.1},{"f":"120","t":14.3,"v":0.21},{"f":"120","t":14.46,"v":0.38},{"f":"120","t":14.55,"v":0.41},{"f":"120","t":14.72,"v":0.33},{"f":"120","t":14.9,"v":0.21},{"f":"120","t":15.17,"v":0.14},{"f":"120","t":15.43,"v":0.104},{"f":"120","t":15.7,"v":0.075},{"f":"120","t":15.97,"v":0.06},{"f":"120","t":16.2,"v":0.053},{"f":"120","t":16.6,"v":0.05},{"f":"120","t":17.9,"v":0.05},{"f":"120","t":18.1,"v":0.056},{"f":"120","t":18.6,"v":0.056},{"f":"120","t":19.0,"v":0.046},{"f":"120","t":21.0,"v":0.047},{"f":"120","t":21.3,"v":0.06},{"f":"120","t":21.6,"v":0.056},{"f":"120","t":22.2,"v":0.046},{"f":"120","t":23.5,"v":0.046},{"f":"120","t":23.77,"v":0.063},{"f":"120","t":24,"v":0.058},
      {"f":"148","t":0,"v":0.034},{"f":"148","t":0.7,"v":0.034},{"f":"148","t":0.85,"v":0.15},{"f":"148","t":0.89,"v":0.29},{"f":"148","t":0.97,"v":0.41},{"f":"148","t":1.1,"v":0.45},{"f":"148","t":1.24,"v":0.45},{"f":"148","t":1.42,"v":0.33},{"f":"148","t":1.6,"v":0.21},{"f":"148","t":1.77,"v":0.137},{"f":"148","t":1.95,"v":0.088},{"f":"148","t":2.13,"v":0.06},{"f":"148","t":2.3,"v":0.043},{"f":"148","t":2.57,"v":0.034},{"f":"148","t":2.93,"v":0.031},{"f":"148","t":3.28,"v":0.029},{"f":"148","t":4.88,"v":0.029},{"f":"148","t":5.0,"v":0.032},{"f":"148","t":5.06,"v":0.046},{"f":"148","t":5.15,"v":0.07},{"f":"148","t":5.23,"v":0.17},{"f":"148","t":5.32,"v":0.87},{"f":"148","t":5.41,"v":1.69},{"f":"148","t":5.55,"v":1.84},{"f":"148","t":5.76,"v":1.36},{"f":"148","t":5.94,"v":0.92},{"f":"148","t":6.03,"v":0.7},{"f":"148","t":6.2,"v":0.45},{"f":"148","t":6.39,"v":0.29},{"f":"148","t":6.56,"v":0.19},{"f":"148","t":6.74,"v":0.12},{"f":"148","t":6.92,"v":0.088},{"f":"148","t":7.18,"v":0.063},{"f":"148","t":7.45,"v":0.046},{"f":"148","t":7.72,"v":0.034},{"f":"148","t":7.98,"v":0.031},{"f":"148","t":8.3,"v":0.031},{"f":"148","t":8.69,"v":0.034},{"f":"148","t":8.96,"v":0.038},{"f":"148","t":9.2,"v":0.034},{"f":"148","t":9.58,"v":0.031},{"f":"148","t":10.1,"v":0.031},{"f":"148","t":10.5,"v":0.032},{"f":"148","t":10.7,"v":0.03},{"f":"148","t":11.2,"v":0.029},{"f":"148","t":13.8,"v":0.029},{"f":"148","t":13.84,"v":0.05},{"f":"148","t":14.0,"v":0.07},{"f":"148","t":14.2,"v":0.083},{"f":"148","t":14.46,"v":0.086},{"f":"148","t":14.64,"v":0.063},{"f":"148","t":14.8,"v":0.038},{"f":"148","t":15.1,"v":0.033},{"f":"148","t":15.5,"v":0.034},{"f":"148","t":16.2,"v":0.031},{"f":"148","t":16.6,"v":0.029},{"f":"148","t":17.1,"v":0.031},{"f":"148","t":17.47,"v":0.034},{"f":"148","t":17.8,"v":0.033},{"f":"148","t":18.0,"v":0.031},{"f":"148","t":18.1,"v":0.038},{"f":"148","t":18.3,"v":0.034},{"f":"148","t":18.6,"v":0.031},{"f":"148","t":19.2,"v":0.029},{"f":"148","t":19.5,"v":0.034},{"f":"148","t":19.7,"v":0.063},{"f":"148","t":19.8,"v":0.07},{"f":"148","t":19.96,"v":0.048},{"f":"148","t":20.1,"v":0.034},{"f":"148","t":20.4,"v":0.031},{"f":"148","t":20.7,"v":0.031},{"f":"148","t":20.9,"v":0.034},{"f":"148","t":21.3,"v":0.036},{"f":"148","t":21.55,"v":0.046},{"f":"148","t":21.7,"v":0.06},{"f":"148","t":21.9,"v":0.043},{"f":"148","t":22.17,"v":0.033},{"f":"148","t":22.4,"v":0.029},{"f":"148","t":22.9,"v":0.029},{"f":"148","t":23.1,"v":0.032},{"f":"148","t":23.33,"v":0.043},{"f":"148","t":23.6,"v":0.043},{"f":"148","t":23.8,"v":0.036},{"f":"148","t":24,"v":0.036},
      {"f":"272","t":0,"v":0.036},{"f":"272","t":0.75,"v":0.036},{"f":"272","t":0.85,"v":0.08},{"f":"272","t":0.97,"v":0.17},{"f":"272","t":1.06,"v":0.41},{"f":"272","t":1.12,"v":0.43},{"f":"272","t":1.24,"v":0.137},{"f":"272","t":1.42,"v":0.078},{"f":"272","t":1.6,"v":0.056},{"f":"272","t":1.77,"v":0.038},{"f":"272","t":1.95,"v":0.034},{"f":"272","t":2.2,"v":0.036},{"f":"272","t":2.48,"v":0.034},{"f":"272","t":2.8,"v":0.034},{"f":"272","t":3.28,"v":0.033},{"f":"272","t":4.2,"v":0.034},{"f":"272","t":4.9,"v":0.033},{"f":"272","t":4.97,"v":0.046},{"f":"272","t":5.06,"v":0.07},{"f":"272","t":5.15,"v":0.29},{"f":"272","t":5.23,"v":0.83},{"f":"272","t":5.32,"v":0.78},{"f":"272","t":5.41,"v":0.5},{"f":"272","t":5.5,"v":0.29},{"f":"272","t":5.59,"v":0.15},{"f":"272","t":5.76,"v":0.1},{"f":"272","t":5.94,"v":0.067},{"f":"272","t":6.03,"v":0.043},{"f":"272","t":6.2,"v":0.034},{"f":"272","t":6.56,"v":0.034},{"f":"272","t":6.74,"v":0.041},{"f":"272","t":6.83,"v":0.067},{"f":"272","t":6.92,"v":0.07},{"f":"272","t":7.1,"v":0.056},{"f":"272","t":7.27,"v":0.041},{"f":"272","t":7.45,"v":0.035},{"f":"272","t":7.8,"v":0.034},{"f":"272","t":8.16,"v":0.036},{"f":"272","t":8.5,"v":0.041},{"f":"272","t":8.8,"v":0.038},{"f":"272","t":9.05,"v":0.043},{"f":"272","t":9.4,"v":0.034},{"f":"272","t":9.75,"v":0.033},{"f":"272","t":10.1,"v":0.038},{"f":"272","t":10.3,"v":0.036},{"f":"272","t":10.6,"v":0.034},{"f":"272","t":10.8,"v":0.033},{"f":"272","t":13.75,"v":0.033},{"f":"272","t":13.84,"v":0.046},{"f":"272","t":13.93,"v":0.07},{"f":"272","t":14.07,"v":0.078},{"f":"272","t":14.2,"v":0.063},{"f":"272","t":14.37,"v":0.046},{"f":"272","t":14.64,"v":0.034},{"f":"272","t":14.9,"v":0.034},{"f":"272","t":15.08,"v":0.046},{"f":"272","t":15.17,"v":0.049},{"f":"272","t":15.35,"v":0.036},{"f":"272","t":15.6,"v":0.034},{"f":"272","t":15.9,"v":0.036},{"f":"272","t":16.2,"v":0.034},{"f":"272","t":16.6,"v":0.033},{"f":"272","t":16.9,"v":0.034},{"f":"272","t":17.1,"v":0.038},{"f":"272","t":17.3,"v":0.036},{"f":"272","t":17.6,"v":0.034},{"f":"272","t":17.8,"v":0.041},{"f":"272","t":17.9,"v":0.048},{"f":"272","t":18.05,"v":0.036},{"f":"272","t":18.45,"v":0.033},{"f":"272","t":19.0,"v":0.033},{"f":"272","t":19.2,"v":0.034},{"f":"272","t":19.3,"v":0.043},{"f":"272","t":19.5,"v":0.053},{"f":"272","t":19.7,"v":0.063},{"f":"272","t":19.9,"v":0.048},{"f":"272","t":20.05,"v":0.036},{"f":"272","t":20.4,"v":0.033},{"f":"272","t":20.7,"v":0.034},{"f":"272","t":21.0,"v":0.038},{"f":"272","t":21.2,"v":0.036},{"f":"272","t":21.4,"v":0.043},{"f":"272","t":21.46,"v":0.056},{"f":"272","t":21.55,"v":0.07},{"f":"272","t":21.7,"v":0.048},{"f":"272","t":21.9,"v":0.036},{"f":"272","t":22.2,"v":0.033},{"f":"272","t":22.7,"v":0.033},{"f":"272","t":23.1,"v":0.034},{"f":"272","t":23.24,"v":0.053},{"f":"272","t":23.4,"v":0.038},{"f":"272","t":23.6,"v":0.034},{"f":"272","t":23.77,"v":0.041},{"f":"272","t":24,"v":0.036},
      {"f":"540","t":0,"v":0.052},{"f":"540","t":0.65,"v":0.052},{"f":"540","t":0.7,"v":0.2},{"f":"540","t":0.8,"v":0.45},{"f":"540","t":0.88,"v":0.3},{"f":"540","t":0.97,"v":0.12},{"f":"540","t":1.05,"v":0.07},{"f":"540","t":1.15,"v":0.06},{"f":"540","t":1.33,"v":0.058},{"f":"540","t":1.5,"v":0.052},{"f":"540","t":1.75,"v":0.052},{"f":"540","t":1.8,"v":0.065},{"f":"540","t":1.85,"v":0.052},{"f":"540","t":3.75,"v":0.052},{"f":"540","t":3.82,"v":0.088},{"f":"540","t":3.88,"v":0.06},{"f":"540","t":3.95,"v":0.052},{"f":"540","t":4.75,"v":0.052},{"f":"540","t":4.8,"v":0.06},{"f":"540","t":4.85,"v":0.052},{"f":"540","t":5.0,"v":0.052},{"f":"540","t":5.08,"v":0.3},{"f":"540","t":5.15,"v":0.45},{"f":"540","t":5.25,"v":0.25},{"f":"540","t":5.35,"v":0.2},{"f":"540","t":5.42,"v":0.06},{"f":"540","t":5.5,"v":0.052},{"f":"540","t":6.6,"v":0.052},{"f":"540","t":6.7,"v":0.067},{"f":"540","t":6.8,"v":0.052},{"f":"540","t":8.45,"v":0.052},{"f":"540","t":8.55,"v":0.06},{"f":"540","t":8.7,"v":0.058},{"f":"540","t":8.8,"v":0.052},{"f":"540","t":8.95,"v":0.062},{"f":"540","t":9.05,"v":0.052},{"f":"540","t":13.65,"v":0.052},{"f":"540","t":13.75,"v":0.13},{"f":"540","t":13.8,"v":0.09},{"f":"540","t":13.88,"v":0.11},{"f":"540","t":13.95,"v":0.07},{"f":"540","t":14.05,"v":0.088},{"f":"540","t":14.15,"v":0.06},{"f":"540","t":14.3,"v":0.052},{"f":"540","t":15.15,"v":0.052},{"f":"540","t":15.2,"v":0.06},{"f":"540","t":15.25,"v":0.052},{"f":"540","t":15.6,"v":0.052},{"f":"540","t":15.65,"v":0.057},{"f":"540","t":15.7,"v":0.052},{"f":"540","t":16.15,"v":0.052},{"f":"540","t":16.2,"v":0.065},{"f":"540","t":16.25,"v":0.052},{"f":"540","t":17.4,"v":0.052},{"f":"540","t":17.5,"v":0.06},{"f":"540","t":17.6,"v":0.052},{"f":"540","t":17.7,"v":0.06},{"f":"540","t":17.74,"v":0.1},{"f":"540","t":17.78,"v":0.052},{"f":"540","t":18.5,"v":0.052},{"f":"540","t":18.6,"v":0.063},{"f":"540","t":18.7,"v":0.056},{"f":"540","t":19.15,"v":0.052},{"f":"540","t":19.2,"v":0.1},{"f":"540","t":19.28,"v":0.12},{"f":"540","t":19.35,"v":0.056},{"f":"540","t":19.6,"v":0.052},{"f":"540","t":19.7,"v":0.24},{"f":"540","t":19.78,"v":0.15},{"f":"540","t":19.85,"v":0.07},{"f":"540","t":19.95,"v":0.052},{"f":"540","t":20.9,"v":0.052},{"f":"540","t":21.0,"v":0.063},{"f":"540","t":21.1,"v":0.052},{"f":"540","t":21.4,"v":0.06},{"f":"540","t":21.48,"v":0.17},{"f":"540","t":21.55,"v":0.12},{"f":"540","t":21.62,"v":0.06},{"f":"540","t":21.7,"v":0.052},{"f":"540","t":23.0,"v":0.052},{"f":"540","t":23.08,"v":0.1},{"f":"540","t":23.15,"v":0.08},{"f":"540","t":23.25,"v":0.06},{"f":"540","t":23.35,"v":0.052},{"f":"540","t":24,"v":0.052},
      {"f":"940","t":0,"v":0.098},{"f":"940","t":0.5,"v":0.098},{"f":"940","t":0.55,"v":0.15},{"f":"940","t":0.62,"v":0.2},{"f":"940","t":0.7,"v":0.13},{"f":"940","t":0.78,"v":0.19},{"f":"940","t":0.85,"v":0.12},{"f":"940","t":0.95,"v":0.1},{"f":"940","t":1.3,"v":0.098},{"f":"940","t":1.8,"v":0.1},{"f":"940","t":2.5,"v":0.097},{"f":"940","t":3.0,"v":0.1},{"f":"940","t":3.75,"v":0.097},{"f":"940","t":3.82,"v":0.16},{"f":"940","t":3.88,"v":0.1},{"f":"940","t":4.5,"v":0.098},{"f":"940","t":5.0,"v":0.1},{"f":"940","t":5.06,"v":0.25},{"f":"940","t":5.12,"v":0.38},{"f":"940","t":5.2,"v":0.22},{"f":"940","t":5.3,"v":0.2},{"f":"940","t":5.45,"v":0.15},{"f":"940","t":5.6,"v":0.17},{"f":"940","t":5.75,"v":0.14},{"f":"940","t":5.9,"v":0.11},{"f":"940","t":6.0,"v":0.1},{"f":"940","t":6.3,"v":0.12},{"f":"940","t":6.45,"v":0.115},{"f":"940","t":6.6,"v":0.1},{"f":"940","t":7.0,"v":0.098},{"f":"940","t":7.5,"v":0.1},{"f":"940","t":8.0,"v":0.096},{"f":"940","t":8.9,"v":0.097},{"f":"940","t":8.95,"v":0.13},{"f":"940","t":9.0,"v":0.098},{"f":"940","t":10.0,"v":0.097},{"f":"940","t":11.2,"v":0.105},{"f":"940","t":11.5,"v":0.097},{"f":"940","t":12.5,"v":0.095},{"f":"940","t":13.7,"v":0.096},{"f":"940","t":13.75,"v":0.28},{"f":"940","t":13.8,"v":0.31},{"f":"940","t":13.88,"v":0.15},{"f":"940","t":13.95,"v":0.12},{"f":"940","t":14.05,"v":0.1},{"f":"940","t":14.3,"v":0.097},{"f":"940","t":15.5,"v":0.095},{"f":"940","t":16.0,"v":0.105},{"f":"940","t":16.2,"v":0.12},{"f":"940","t":16.4,"v":0.11},{"f":"940","t":16.6,"v":0.12},{"f":"940","t":16.8,"v":0.11},{"f":"940","t":17.1,"v":0.1},{"f":"940","t":17.3,"v":0.098},{"f":"940","t":17.6,"v":0.1},{"f":"940","t":17.65,"v":0.18},{"f":"940","t":17.72,"v":0.14},{"f":"940","t":17.8,"v":0.098},{"f":"940","t":18.4,"v":0.098},{"f":"940","t":18.5,"v":0.18},{"f":"940","t":18.62,"v":0.15},{"f":"940","t":18.7,"v":0.1},{"f":"940","t":19.1,"v":0.098},{"f":"940","t":19.16,"v":0.2},{"f":"940","t":19.22,"v":0.24},{"f":"940","t":19.28,"v":0.12},{"f":"940","t":19.55,"v":0.098},{"f":"940","t":19.62,"v":0.3},{"f":"940","t":19.68,"v":0.6},{"f":"940","t":19.75,"v":0.4},{"f":"940","t":19.82,"v":0.12},{"f":"940","t":19.9,"v":0.098},{"f":"940","t":21.0,"v":0.1},{"f":"940","t":21.3,"v":0.11},{"f":"940","t":21.4,"v":0.2},{"f":"940","t":21.5,"v":0.5},{"f":"940","t":21.56,"v":0.3},{"f":"940","t":21.62,"v":0.12},{"f":"940","t":21.7,"v":0.098},{"f":"940","t":22.9,"v":0.098},{"f":"940","t":22.97,"v":0.15},{"f":"940","t":23.05,"v":0.22},{"f":"940","t":23.12,"v":0.16},{"f":"940","t":23.2,"v":0.1},{"f":"940","t":24,"v":0.098}
    ],
    "stray": [
      {"f":"100","t":15.84,"v":1.5},{"f":"540","t":15.79,"v":0.215},{"f":"940","t":15.79,"v":0.37}
    ],
    "freqs": [
      {"lab":"52","f":"52","k":1},{"lab":"100","f":"100","k":2},{"lab":"120","f":"120","k":3},{"lab":"148","f":"148","k":4},{"lab":"272","f":"272","k":5},{"lab":"540","f":"540","k":6},{"lab":"940","f":"940","k":7}
    ]
  },
  "vconcat": [
    {
      "width": 451,
      "height": 280,
      "resolve": {"axis": {"x": "independent", "y": "independent"}, "scale": {"color": "independent"}},
      "layer": [
        {
          "data": {"name": "az"},
          "mark": {"type": "tick", "orient": "horizontal", "size": 5, "thickness": 2},
          "encoding": {
            "x": {"field": "t", "type": "quantitative", "scale": {"domain": [0, 24], "nice": false},
              "axis": {"orient": "bottom", "values": [0,1,2,3,4,5,6,7,8,9,10,11,12,13,14,15,16,17,18,19,20,21,22,23,24], "labels": false, "title": null,
                "tickSize": {"condition": {"test": "datum.value % 6 === 0", "value": 6}, "value": 3}}},
            "y": {"field": "a", "type": "quantitative", "scale": {"domain": [-90, 90], "nice": false},
              "axis": {"orient": "left", "values": [-90,-80,-70,-60,-50,-40,-30,-20,-10,0,10,20,30,40,50,60,70,80,90],
                "labelExpr": "datum.value % 30 === 0 ? datum.label : ''", "labelFlush": true, "labelPadding": 4,
                "title": "Azimuthal angle (deg)", "titlePadding": 12,
                "tickSize": {"condition": {"test": "datum.value % 30 === 0", "value": 6}, "value": 3}}},
            "color": {"field": "f", "type": "nominal", "scale": {"domain": ["540", "940"], "range": ["#0000ff", "#a020f0"]}, "legend": null}
          }
        },
        {
          "data": {"name": "planets"},
          "mark": {"type": "line", "interpolate": "step-after", "strokeWidth": 4},
          "encoding": {
            "x": {"field": "t", "type": "quantitative", "scale": {"domain": [0, 24], "nice": false},
              "axis": {"orient": "top", "values": [0,1,2,3,4,5,6,7,8,9,10,11,12,13,14,15,16,17,18,19,20,21,22,23,24], "labels": false, "title": null,
                "tickSize": {"condition": {"test": "datum.value % 6 === 0", "value": 6}, "value": 3}}},
            "y": {"field": "a", "type": "quantitative", "scale": {"domain": [-90, 90], "nice": false},
              "axis": {"orient": "right", "values": [-90,-80,-70,-60,-50,-40,-30,-20,-10,0,10,20,30,40,50,60,70,80,90], "labels": false, "title": null, "tickSize": 5}},
            "color": {"field": "name", "type": "nominal", "scale": {"domain": ["Saturn", "Jupiter"], "range": ["#ff0000", "#000000"]}, "legend": null}
          }
        },
        {
          "data": {"name": "planets"},
          "transform": [{"filter": "datum.t === 24 && datum.name === 'Saturn'"}],
          "mark": {"type": "text", "align": "left", "baseline": "middle", "dx": 3, "dy": -2, "fontSize": 12, "font": "Liberation Sans", "color": "black"},
          "encoding": {
            "x": {"field": "t", "type": "quantitative", "axis": null},
            "y": {"field": "a", "type": "quantitative", "axis": null},
            "text": {"field": "name"}
          }
        },
        {
          "data": {"name": "planets"},
          "transform": [{"filter": "datum.t === 24 && datum.name === 'Jupiter'"}],
          "mark": {"type": "text", "align": "left", "baseline": "middle", "dx": 3, "dy": 2, "fontSize": 12, "font": "Liberation Sans", "color": "black"},
          "encoding": {
            "x": {"field": "t", "type": "quantitative", "axis": null},
            "y": {"field": "a", "type": "quantitative", "axis": null},
            "text": {"field": "name"}
          }
        }
      ]
    },
    {
      "width": 451,
      "height": 210,
      "resolve": {"axis": {"x": "independent", "y": "independent"}},
      "layer": [
        {
          "data": {"name": "intensity"},
          "mark": {"type": "line", "strokeWidth": 2},
          "encoding": {
            "x": {"field": "t", "type": "quantitative", "scale": {"domain": [0, 24], "nice": false},
              "axis": {"orient": "bottom", "values": [0,1,2,3,4,5,6,7,8,9,10,11,12,13,14,15,16,17,18,19,20,21,22,23,24],
                "labelExpr": "datum.value % 6 === 0 ? datum.label : ''", "labelPadding": 8,
                "title": "time - hours on 1991-05-22", "titlePadding": 6,
                "tickSize": {"condition": {"test": "datum.value % 6 === 0", "value": 6}, "value": 3}}},
            "y": {"field": "v", "type": "quantitative", "scale": {"type": "log", "domain": [0.01, 10], "nice": false},
              "axis": {"orient": "left", "values": [0.01,0.02154,0.04642,0.1,0.2154,0.4642,1,2.154,4.642,10],
                "labelExpr": "abs(log(datum.value)/LN10 - round(log(datum.value)/LN10)) < 0.01 ? format(datum.value, '.2f') : ''",
                "labelFlush": true, "labelPadding": 4,
                "title": "Intensity (microvolt/sqrt(Hz))", "titlePadding": 10,
                "tickSize": {"condition": {"test": "abs(log(datum.value)/LN10 - round(log(datum.value)/LN10)) < 0.01", "value": 6}, "value": 3}}},
            "color": {"field": "f", "type": "nominal", "sort": null,
              "scale": {"domain": ["52","100","120","148","272","540","940"], "range": ["#ff0000","#ffa500","#c8c800","#00ff00","#00a8ff","#0000ff","#a020f0"]}, "legend": null}
          }
        },
        {
          "data": {"name": "stray"},
          "mark": {"type": "square", "size": 8, "opacity": 1},
          "encoding": {
            "x": {"field": "t", "type": "quantitative", "scale": {"domain": [0, 24], "nice": false},
              "axis": {"orient": "top", "values": [0,1,2,3,4,5,6,7,8,9,10,11,12,13,14,15,16,17,18,19,20,21,22,23,24], "labels": false, "title": null,
                "tickSize": {"condition": {"test": "datum.value % 6 === 0", "value": 6}, "value": 3}}},
            "y": {"field": "v", "type": "quantitative", "scale": {"type": "log", "domain": [0.01, 10], "nice": false},
              "axis": {"orient": "right", "values": [0.01,0.02154,0.04642,0.1,0.2154,0.4642,1,2.154,4.642,10], "labels": false, "title": null, "tickSize": 5}},
            "color": {"field": "f", "type": "nominal",
              "scale": {"domain": ["52","100","120","148","272","540","940"], "range": ["#ff0000","#ffa500","#c8c800","#00ff00","#00a8ff","#0000ff","#a020f0"]}, "legend": null}
          }
        }
      ]
    },
    {
      "width": 451,
      "height": 28,
      "data": {"name": "freqs"},
      "layer": [
        {
          "mark": {"type": "text", "align": "left", "baseline": "middle", "fontSize": 14},
          "encoding": {
            "x": {"field": "k", "type": "quantitative", "scale": {"domain": [-1.6, 7.42], "nice": false, "zero": false}, "axis": null},
            "text": {"field": "lab"},
            "color": {"field": "f", "type": "nominal",
              "scale": {"domain": ["52","100","120","148","272","540","940"], "range": ["#ff0000","#ffa500","#c8c800","#00ff00","#00a8ff","#0000ff","#a020f0"]}, "legend": null}
          }
        },
        {
          "transform": [{"filter": "datum.k === 1"}],
          "mark": {"type": "text", "align": "right", "baseline": "middle", "fontSize": 14, "dx": -7, "text": "Frequencies (kHz):", "color": "black"},
          "encoding": {
            "x": {"field": "k", "type": "quantitative", "scale": {"domain": [-1.6, 7.42], "nice": false, "zero": false}, "axis": null}
          }
        }
      ]
    }
  ]
}
